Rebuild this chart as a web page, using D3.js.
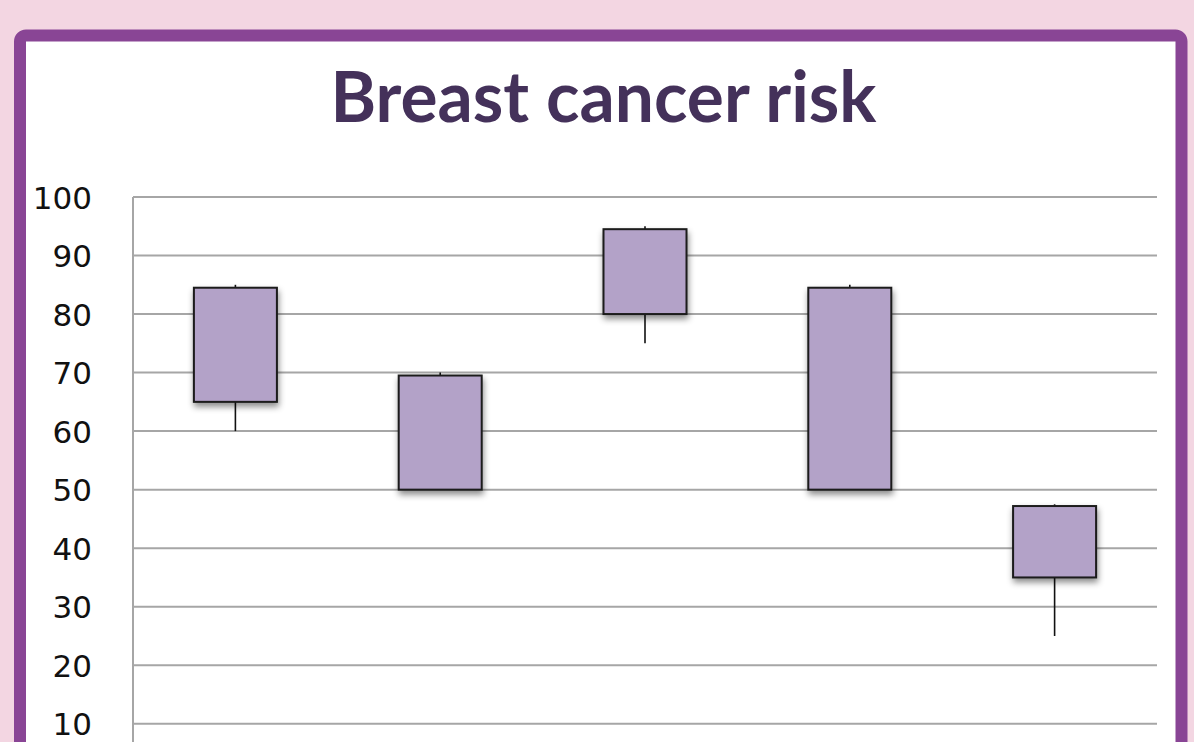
<!DOCTYPE html>
<html>
<head>
<meta charset="utf-8">
<script src="https://cdn.jsdelivr.net/npm/d3@7"></script>
<style>
  html, body { margin: 0; padding: 0; background: #f3d6e2; overflow: hidden; }
  svg { display: block; }
</style>
</head>
<body>
<svg id="chart" width="1194" height="742"></svg>
<script>
// ---- data ----
const title = "Breast cancer risk";
const categories = ["1", "2", "3", "4", "5"];
const boxTop = [84.5, 69.5, 94.5, 84.5, 47.2];
const boxBottom = [65, 50, 80, 50, 35];
const highs = [85, 70, 95, 85, 47.5];
const lows = [60, 50, 75, 50, 25];
const yTicks = [10, 20, 30, 40, 50, 60, 70, 80, 90, 100];

const svg = d3.select("#chart");
const W = 1194, H = 742;

// drop shadow filter
const defs = svg.append("defs");
const f = defs.append("filter").attr("id", "shadow")
  .attr("x", "-30%").attr("y", "-30%").attr("width", "160%").attr("height", "160%");
f.append("feDropShadow").attr("dx", 1).attr("dy", 4).attr("stdDeviation", 3)
  .attr("flood-color", "#000").attr("flood-opacity", 0.45);

// background + frame
svg.append("rect").attr("width", W).attr("height", H).attr("fill", "#f3d6e2");
svg.append("rect")
  .attr("x", 20).attr("y", 35.5).attr("width", 1161.5).attr("height", 900)
  .attr("rx", 6).attr("fill", "#ffffff")
  .attr("stroke", "#894595").attr("stroke-width", 12);

// title
const t = svg.append("text")
  .attr("x", 603.5).attr("y", 122)
  .attr("text-anchor", "middle")
  .attr("font-family", "Lato, 'Open Sans', sans-serif")
  .attr("font-weight", "bold")
  .attr("font-size", 70)
  .attr("fill", "#44315a")
  .attr("textLength", 546)
  .attr("lengthAdjust", "spacingAndGlyphs")
  .text(title);

// scales
const x0 = 133, x1 = 1157;
const x = d3.scaleBand().domain(categories).range([x0, x1]).padding(0);
const y = d3.scaleLinear().domain([0, 100]).range([782.3, 197]);

// gridlines
const g = svg.append("g");
g.selectAll("line.grid").data(yTicks).join("line")
  .attr("class", "grid")
  .attr("x1", x0).attr("x2", x1)
  .attr("y1", d => y(d)).attr("y2", d => y(d))
  .attr("stroke", "#a6a6a6").attr("stroke-width", 2);

// y axis line
g.append("line").attr("x1", x0).attr("x2", x0).attr("y1", y(100)).attr("y2", H + 10)
  .attr("stroke", "#a6a6a6").attr("stroke-width", 2);

// y tick labels
const yAxis = d3.axisLeft(y).tickValues(yTicks).tickSize(0).tickPadding(0);
const ya = svg.append("g").attr("transform", `translate(92,0)`).call(yAxis);
ya.select(".domain").remove();
ya.selectAll("text")
  .attr("font-family", "'DejaVu Sans', sans-serif")
  .attr("font-size", 31)
  .attr("fill", "#111")
  .attr("dy", "0.36em");

// whiskers
const bw = 83;
const idx = d3.range(categories.length);
svg.append("g").selectAll("line").data(idx).join("line")
  .attr("x1", i => x(categories[i]) + x.bandwidth() / 2)
  .attr("x2", i => x(categories[i]) + x.bandwidth() / 2)
  .attr("y1", i => y(highs[i]))
  .attr("y2", i => y(lows[i]))
  .attr("stroke", "#111").attr("stroke-width", 1.6);

// boxes
svg.append("g").selectAll("rect").data(idx).join("rect")
  .attr("x", i => x(categories[i]) + x.bandwidth() / 2 - bw / 2)
  .attr("width", bw)
  .attr("y", i => y(boxTop[i]))
  .attr("height", i => y(boxBottom[i]) - y(boxTop[i]))
  .attr("fill", "#b3a2c8")
  .attr("stroke", "#1a1a1a").attr("stroke-width", 2)
  .attr("filter", "url(#shadow)");
</script>
</body>
</html>
